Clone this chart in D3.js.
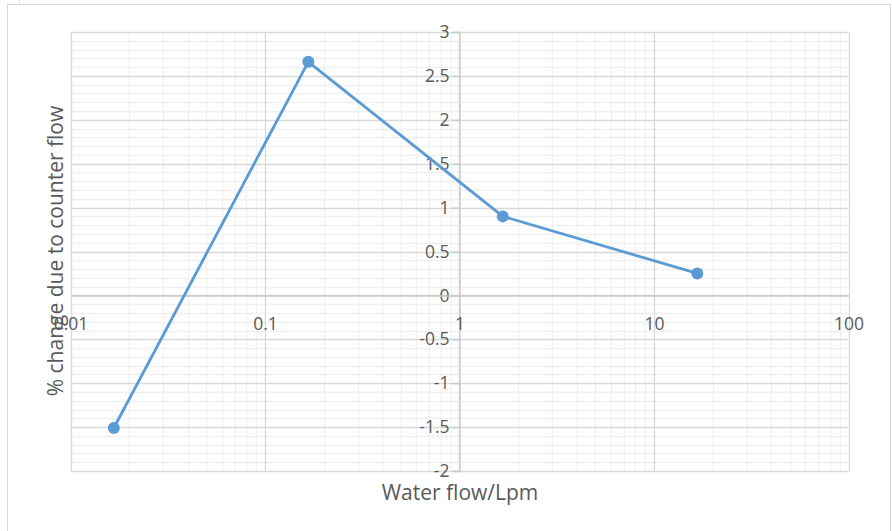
<!DOCTYPE html>
<html>
<head>
<meta charset="utf-8">
<script src="https://cdn.jsdelivr.net/npm/d3@7"></script>
<style>
  html, body { margin: 0; padding: 0; background: #fff; }
  svg { display: block; }
</style>
</head>
<body>
<div id="chart"></div>
<script>
// ---- Data ----
const flowLpm = [0.0167, 0.167, 1.67, 16.7];
const pctChange = [-1.51, 2.66, 0.90, 0.25];
const xTickLabels = ["0.01", "0.1", "1", "10", "100"];
const xTickValues = [0.01, 0.1, 1, 10, 100];
const yTickValues = [-2, -1.5, -1, -0.5, 0, 0.5, 1, 1.5, 2, 2.5, 3];
const yTickLabels = ["-2", "-1.5", "-1", "-0.5", "0", "0.5", "1", "1.5", "2", "2.5", "3"];
const xTitle = "Water flow/Lpm";
const yTitle = "% change due to counter flow";

const W = 892, H = 531;
const FONT = "'Open Sans', 'Noto Sans', sans-serif";
const TXT = "#595959";

const svg = d3.select("#chart").append("svg")
  .attr("width", W).attr("height", H);

// outer chart border
svg.append("rect").attr("x", 7.5).attr("y", 4.5)
  .attr("width", 883).attr("height", 540)
  .attr("fill", "#fff").attr("stroke", "#d9d9d9").attr("stroke-width", 1.2);
svg.append("line").attr("x1", 19.5).attr("x2", 19.5).attr("y1", 0).attr("y2", 3)
  .attr("stroke", "#d9d9d9");

const x = d3.scaleLog().domain([0.01, 100]).range([70.5, 848.5]);
const y = d3.scaleLinear().domain([-2, 3]).range([471, 32]);

const grid = svg.append("g");

// minor horizontal gridlines (0.1 steps)
const minorY = d3.range(-20, 31).filter(i => i % 5 !== 0).map(i => i / 10);
grid.selectAll(".hmin").data(minorY).enter().append("line")
  .attr("x1", x.range()[0]).attr("x2", x.range()[1])
  .attr("y1", d => Math.round(y(d)) + 0.5).attr("y2", d => Math.round(y(d)) + 0.5)
  .attr("stroke", "#f0f0f0").attr("stroke-width", 1.3);

// minor vertical gridlines
const minorX = [];
[0.01, 0.1, 1, 10].forEach(dec => { for (let k = 2; k <= 9; k++) minorX.push(dec * k); });
grid.selectAll(".vmin").data(minorX).enter().append("line")
  .attr("y1", y.range()[1]).attr("y2", y.range()[0])
  .attr("x1", d => Math.round(x(d)) + 0.5).attr("x2", d => Math.round(x(d)) + 0.5)
  .attr("stroke", "#f0f0f0").attr("stroke-width", 1.3);

// major horizontal gridlines
grid.selectAll(".hmaj").data(yTickValues).enter().append("line")
  .attr("x1", x.range()[0]).attr("x2", x.range()[1])
  .attr("y1", d => Math.round(y(d)) + 0.5).attr("y2", d => Math.round(y(d)) + 0.5)
  .attr("stroke", "#d9d9d9").attr("stroke-width", 1.3);

// major vertical gridlines
grid.selectAll(".vmaj").data(xTickValues).enter().append("line")
  .attr("y1", y.range()[1]).attr("y2", y.range()[0])
  .attr("x1", d => Math.round(x(d)) + 0.5).attr("x2", d => Math.round(x(d)) + 0.5)
  .attr("stroke", "#d9d9d9").attr("stroke-width", 1.3);

// y axis at x = 1
const yAxis = d3.axisLeft(y).tickValues(yTickValues)
  .tickFormat((d, i) => yTickLabels[i]).tickSize(7).tickPadding(3);
const gy = svg.append("g").attr("transform", `translate(${Math.round(x(1)) + 0.5},0)`).call(yAxis);
gy.select(".domain").attr("stroke", "#c8c8c8").attr("stroke-width", 1.3);
gy.selectAll(".tick line").attr("stroke", "#c8c8c8").attr("stroke-width", 1.3);
gy.selectAll(".tick text").attr("fill", TXT).style("font-family", FONT).style("font-size", "17.5px");

// x axis at y = 0
const xAxis = d3.axisBottom(x).tickValues(xTickValues)
  .tickFormat((d, i) => xTickLabels[i]).tickSize(0);
const gx = svg.append("g").attr("transform", `translate(0,${Math.round(y(0)) + 0.5})`).call(xAxis);
gx.select(".domain").attr("stroke", "#c8c8c8").attr("stroke-width", 1.3);
gx.selectAll(".tick text").attr("fill", TXT).style("font-family", FONT).style("font-size", "17.5px")
  .attr("y", 34).attr("dy", 0);

// series
const pts = flowLpm.map((v, i) => [v, pctChange[i]]);
svg.append("path").datum(pts)
  .attr("d", d3.line().x(d => x(d[0])).y(d => y(d[1])))
  .attr("fill", "none").attr("stroke", "#5b9bd5").attr("stroke-width", 2.8)
  .attr("stroke-linejoin", "round");
svg.selectAll(".pt").data(pts).enter().append("circle")
  .attr("cx", d => x(d[0])).attr("cy", d => y(d[1])).attr("r", 6)
  .attr("fill", "#5b9bd5");

// axis titles
svg.append("text").attr("x", 460).attr("y", 500).attr("text-anchor", "middle")
  .attr("fill", TXT).style("font-family", FONT).style("font-size", "21px").text(xTitle);
svg.append("text").attr("transform", "translate(63,251) rotate(-90)").attr("text-anchor", "middle")
  .attr("fill", TXT).style("font-family", FONT).style("font-size", "21px").text(yTitle);
</script>
</body>
</html>
